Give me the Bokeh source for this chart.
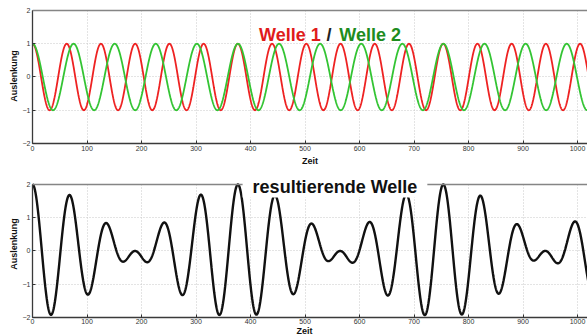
import numpy as np
from bokeh.plotting import figure
from bokeh.layouts import column
from bokeh.models import Label, Range1d, FixedTicker, Span, BoxAnnotation, Div
from bokeh.embed import file_html
from bokeh.resources import INLINE

# ---- values ----
wave_names = ["Welle 1", "Welle 2"]
wave_periods = [62.8, 75.4]        # time between successive peaks
wave_amplitudes = [1.0, 1.0]
wave_colors = ["#ee2222", "#33c433"]
time_samples = np.arange(0, 1030.5, 0.5)
x_ticks = [0, 100, 200, 300, 400, 500, 600, 700, 800, 900, 1000]
y_ticks = [-2, -1, 0, 1, 2]
x_label = "Zeit"
y_label = "Auslenkung"
title_top_1 = "Welle 1"
title_top_sep = "/"
title_top_2 = "Welle 2"
title_bottom = "resultierende Welle"

waves = [a * np.cos(2 * np.pi * time_samples / T) for a, T in zip(wave_amplitudes, wave_periods)]
resultant = waves[0] + waves[1]

FONT = "Liberation Sans"
W = 587
LEFT = 32
PX_PER_X = 0.545


def make_fig(height, y_top, top_border, bottom_border, with_xlabel):
    p = figure(width=W, height=height, output_backend="svg", toolbar_location=None,
               x_range=Range1d(0, (W - LEFT) / PX_PER_X), y_range=Range1d(-2, y_top),
               min_border_left=LEFT, min_border_right=0, min_border_top=top_border,
               min_border_bottom=bottom_border)
    p.background_fill_color = "white"
    p.border_fill_color = "white"
    p.outline_line_color = None
    p.xaxis.ticker = FixedTicker(ticks=x_ticks)
    p.yaxis.ticker = FixedTicker(ticks=y_ticks)
    p.yaxis.bounds = (-2, 2)
    for ax in (p.xaxis[0], p.yaxis[0]):
        ax.major_tick_in = 3
        ax.major_tick_out = 0
        ax.minor_tick_line_color = None
        ax.axis_line_color = "#3a3a3a"
        ax.axis_line_width = 1.3
        ax.major_tick_line_color = "#333333"
        ax.major_label_text_font = FONT
        ax.major_label_text_font_size = "7px"
        ax.major_label_text_color = "#333333"
        ax.major_label_standoff = 2
        ax.axis_label_text_font = FONT
        ax.axis_label_text_font_style = "bold"
        ax.axis_label_text_font_size = "9px"
        ax.axis_label_text_color = "#111111"
    if with_xlabel:
        p.xaxis.axis_label = x_label
        p.xaxis.axis_label_standoff = 2
    else:
        p.xaxis.major_label_standoff = 1
    p.yaxis.axis_label = y_label
    p.yaxis.axis_label_standoff = 1
    p.grid.grid_line_color = "#c8c8c8"
    p.grid.grid_line_dash = "1 2"
    p.grid.grid_line_width = 1
    # keep the area above the top frame line clean
    p.add_layout(BoxAnnotation(bottom=2, fill_color="white", fill_alpha=1.0,
                               line_color=None, level="underlay"))
    # top frame line
    p.add_layout(Span(location=2, dimension="width", line_color="#858585", line_width=1.5))
    return p


# top panel: frame 8..143 px, y=2 at 10 px
p1 = make_fig(170, 2.06, 8, 27, True)
for w, c in zip(waves, wave_colors):
    p1.line(time_samples, w, line_color=c, line_width=1.8)

p1.add_layout(Label(x=529, y=1.25, text=title_top_1, text_align="right", text_baseline="alphabetic",
                    text_font=FONT, text_font_style="bold", text_font_size="18px", text_color="#e01b1b"))
p1.add_layout(Label(x=544, y=1.25, text=title_top_sep, text_align="center", text_baseline="alphabetic",
                    text_font=FONT, text_font_style="bold", text_font_size="18px", text_color="#222222"))
p1.add_layout(Label(x=563, y=1.25, text=title_top_2, text_align="left", text_baseline="alphabetic",
                    text_font=FONT, text_font_style="bold", text_font_size="18px", text_color="#1e8c1e"))

# bottom panel: frame 170..317 px, y=2 at 184 px, title straddles the frame line
p2 = make_fig(158, 2.42, 0, 11, False)
p2.line(time_samples, resultant, line_color="#111111", line_width=2.4)
p2.add_layout(Label(x=555, y=1.91, text=title_bottom, text_align="center", text_baseline="alphabetic",
                    text_font=FONT, text_font_style="bold", text_font_size="18px", text_color="#111111",
                    background_fill_color="white",
                    padding=dict(left=10, right=10, top=0, bottom=0)))

# x-axis title of the bottom panel, squeezed into the last pixels of the window
zeit = Div(text=x_label, width=W, height=7,
           styles={"font-family": FONT, "font-weight": "bold", "font-size": "9px",
                   "line-height": "6px", "text-align": "center", "text-indent": "22px",
                   "overflow": "visible", "color": "#111111", "margin": "0", "padding": "0"})

layout = column(p1, p2, zeit, spacing=0)
html = file_html(layout, INLINE)
open("out.html", "w").write(html)
